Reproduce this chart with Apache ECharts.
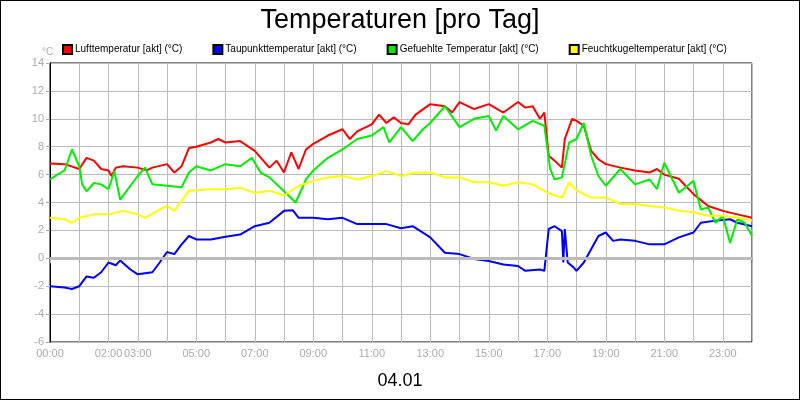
<!DOCTYPE html>
<html>
<head>
<meta charset="utf-8">
<script src="https://cdn.jsdelivr.net/npm/echarts@6/dist/echarts.min.js"></script>
<style>
  html, body { margin: 0; padding: 0; }
  #chart { width: 798px; height: 398px; border: 1px solid #000; }
</style>
</head>
<body>
<div id="chart"></div>
<script>
// hour of day, value
const luft = [[0,6.8],[0.5,6.75],[1,6.4],[1.25,7.2],[1.5,7.0],[1.75,6.4],[2,6.3],[2.1,5.9],[2.25,6.5],[2.5,6.6],[3,6.5],[3.3,6.3],[3.5,6.5],[4,6.75],[4.25,6.15],[4.5,6.6],[4.75,7.9],[5,8.0],[5.5,8.3],[5.75,8.55],[6,8.3],[6.5,8.4],[7,7.7],[7.5,6.5],[7.75,7.0],[8,6.15],[8.25,7.6],[8.5,6.4],[8.75,7.8],[9,8.2],[9.5,8.8],[10,9.25],[10.25,8.55],[10.5,9.1],[11,9.6],[11.25,10.3],[11.5,9.7],[11.75,10.1],[12,9.7],[12.25,9.6],[12.5,10.3],[13,11.05],[13.5,10.9],[13.75,10.45],[14,11.2],[14.5,10.7],[15,11.05],[15.5,10.45],[16,11.2],[16.25,10.8],[16.5,10.9],[16.75,10.0],[16.9,10.45],[17.05,7.35],[17.25,7.0],[17.5,6.5],[17.6,8.55],[17.85,10.0],[18,9.85],[18.25,9.5],[18.5,7.7],[18.75,7.1],[19,6.75],[19.5,6.5],[20,6.3],[20.5,6.15],[20.75,6.4],[21,6.0],[21.5,5.7],[22,4.6],[22.5,3.75],[23,3.4],[23.5,3.15],[24,2.9]];
const taupunkt = [[0,-2.0],[0.5,-2.1],[0.75,-2.2],[1,-2.0],[1.25,-1.3],[1.5,-1.4],[1.75,-1.0],[2,-0.3],[2.25,-0.5],[2.4,-0.15],[2.75,-0.8],[3,-1.15],[3.5,-1.0],[3.75,-0.3],[4,0.45],[4.25,0.3],[4.5,1.0],[4.75,1.6],[5,1.35],[5.5,1.35],[6,1.55],[6.5,1.7],[7,2.3],[7.5,2.55],[8,3.4],[8.3,3.45],[8.5,2.9],[9,2.9],[9.5,2.8],[10,2.9],[10.5,2.45],[11,2.45],[11.5,2.45],[12,2.15],[12.4,2.3],[13,1.5],[13.5,0.4],[14,0.3],[14.5,-0.05],[15,-0.2],[15.5,-0.45],[16,-0.55],[16.25,-0.9],[16.75,-0.8],[16.9,-0.9],[17.05,2.1],[17.25,2.3],[17.5,1.95],[17.55,-0.3],[17.6,2.1],[17.7,-0.3],[17.9,-0.65],[18,-0.9],[18.25,-0.3],[18.5,0.65],[18.75,1.6],[19,1.85],[19.25,1.25],[19.5,1.35],[20,1.25],[20.5,1.0],[21,1.0],[21.5,1.5],[22,1.85],[22.25,2.55],[22.75,2.7],[23.25,2.8],[23.5,2.55],[24,2.3]];
const gefuehlt = [[0,5.65],[0.25,6.0],[0.5,6.3],[0.75,7.8],[1,6.6],[1.1,5.3],[1.25,4.8],[1.5,5.4],[1.75,5.3],[2,4.95],[2.2,6.25],[2.4,4.2],[2.75,5.2],[3,5.9],[3.25,6.5],[3.5,5.3],[4,5.2],[4.5,5.1],[4.75,6.15],[5,6.6],[5.5,6.3],[6,6.75],[6.5,6.6],[6.9,7.2],[7.2,6.15],[7.5,5.8],[8,4.8],[8.4,4.0],[8.75,5.65],[9,6.3],[9.5,7.2],[10,7.8],[10.5,8.55],[11,8.8],[11.4,9.4],[11.6,8.3],[12,9.4],[12.4,8.4],[12.75,9.25],[13,9.7],[13.5,10.9],[14,9.4],[14.5,10.0],[15,10.2],[15.25,9.15],[15.5,10.2],[16,9.25],[16.5,9.85],[16.9,9.5],[17.1,6.4],[17.25,5.65],[17.5,5.8],[17.75,8.3],[18,8.55],[18.25,9.7],[18.5,7.35],[18.75,5.9],[19,5.2],[19.5,6.4],[20,5.3],[20.5,5.65],[20.75,4.95],[21,6.85],[21.5,4.7],[22,5.55],[22.25,3.5],[22.5,3.65],[22.75,2.55],[23,3.05],[23.25,1.1],[23.5,2.8],[23.75,2.55],[24,1.6]];
const feucht = [[0,2.9],[0.5,2.8],[0.75,2.55],[1,2.9],[1.5,3.15],[2,3.15],[2.5,3.4],[3,3.15],[3.25,2.9],[3.75,3.5],[4,3.75],[4.25,3.4],[4.75,4.85],[5.5,4.95],[6,4.95],[6.5,5.05],[7,4.7],[7.5,4.85],[8,4.5],[8.5,5.2],[9,5.55],[9.5,5.8],[10,5.9],[10.5,5.65],[11,5.9],[11.5,6.25],[12,5.9],[12.5,6.15],[13,6.15],[13.5,5.8],[14,5.8],[14.5,5.45],[15,5.45],[15.5,5.2],[16,5.45],[16.5,5.3],[17,4.7],[17.5,4.35],[17.75,5.45],[18,4.85],[18.5,4.35],[19,4.35],[19.5,3.9],[20,3.9],[20.5,3.75],[21,3.65],[21.5,3.4],[22,3.3],[22.5,3.05],[23,3.05],[23.5,2.9],[24,2.7]];
const shownHours = [0, 2, 3, 5, 7, 9, 11, 13, 15, 17, 19, 21, 23];

const chart = echarts.init(document.getElementById('chart'));
const font = 'Liberation Sans, Arial, sans-serif';
function line(name, data, color) {
  return { name, type: 'line', data, showSymbol: false, symbol: 'none',
    lineStyle: { color, width: 2 }, itemStyle: { color, borderColor: '#000', borderWidth: 1 } };
}
const series = [
  line('Lufttemperatur [akt] (°C)', luft, '#ff0000'),
  line('Taupunkttemperatur [akt] (°C)', taupunkt, '#0000ff'),
  line('Gefuehlte Temperatur [akt] (°C)', gefuehlt, '#00ee00'),
  line('Feuchtkugeltemperatur [akt] (°C)', feucht, '#ffff00')
];
series[0].markLine = { silent: true, symbol: 'none', label: { show: false },
  lineStyle: { color: '#bbb', width: 3, type: 'solid' }, data: [{ yAxis: 0 }] };
series.forEach(s => s.z = 3);

chart.setOption({
  animation: false,
  textStyle: { fontFamily: font },
  title: [
    { text: 'Temperaturen [pro Tag]', left: 'center', top: 1,
      textStyle: { fontSize: 27, fontWeight: 'normal', color: '#000', fontFamily: font } },
    { text: '04.01', left: 'center', top: 366,
      textStyle: { fontSize: 18, fontWeight: 'normal', color: '#000', fontFamily: font } },
    { text: '°C', left: 36, top: 41,
      textStyle: { fontSize: 10, fontWeight: 'normal', color: '#aaa', fontFamily: font } }
  ],
  legend: { top: 38, left: 56, itemGap: 30, itemWidth: 9, itemHeight: 9, icon: 'rect',
    textStyle: { fontSize: 10, color: '#000', fontFamily: font, padding: [0, 0, 0, -2] } },
  grid: { left: 49, right: 47, top: 62, bottom: 57, show: true, borderColor: '#000', borderWidth: 1 },
  xAxis: { type: 'value', min: 0, max: 24, interval: 1,
    axisLine: { lineStyle: { color: '#000' } },
    axisTick: { show: true, length: 5, lineStyle: { color: '#aaa' } },
    axisLabel: { color: '#aaa', fontSize: 11, margin: 6,
      formatter: v => shownHours.includes(v) ? String(v).padStart(2, '0') + ':00' : '' },
    splitLine: { show: true, lineStyle: { color: '#bbb', width: 1 } } },
  yAxis: { type: 'value', min: -6, max: 14, interval: 2,
    axisLine: { show: true, lineStyle: { color: '#000' } },
    axisTick: { show: true, length: 4, lineStyle: { color: '#aaa' } },
    axisLabel: { color: '#aaa', fontSize: 11, margin: 6 },
    splitLine: { show: true, lineStyle: { color: '#bbb', width: 1 } } },
  series
});
</script>
</body>
</html>
